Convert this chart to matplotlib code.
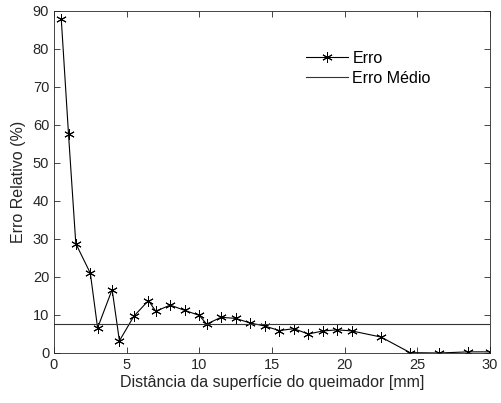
import matplotlib
matplotlib.use("Agg")
import matplotlib.pyplot as plt
import numpy as np

plt.rcParams["font.family"] = ["Liberation Sans", "DejaVu Sans"]

# distance from burner surface [mm] and relative error [%]
distancia = [0.5, 1.0, 1.5, 2.5, 3.0, 4.0, 4.5, 5.5, 6.5, 7.0, 8.0, 9.0, 10.0,
             10.5, 11.5, 12.5, 13.5, 14.5, 15.5, 16.5, 17.5, 18.5, 19.5, 20.5,
             22.5, 24.5, 26.5, 28.5, 30.0]
erro = [87.9, 57.5, 28.8, 21.0, 6.6, 16.7, 3.2, 9.7, 13.8, 11.0, 12.6, 11.2, 9.9,
        7.6, 9.4, 9.1, 7.9, 7.1, 5.9, 6.4, 5.0, 5.8, 6.1, 5.8,
        4.2, 0.1, 0.0, 0.3, 0.3]
erro_medio = 7.6

fig = plt.figure(figsize=(5.01, 4.03), dpi=100)
ax = fig.add_axes([54 / 501, 50 / 403, 436 / 501, 342 / 403])

# MATLAB-style asterisk marker
ax.plot(distancia, erro, color="black", linewidth=0.8, marker=(6, 2, 0),
        markersize=7.5, markeredgewidth=0.7, label="Erro")
ax.axhline(erro_medio, color="#333333", linewidth=0.8, label="Erro Médio")

ax.set_xlim(0, 30)
ax.set_ylim(0, 90)
ax.set_xticks(np.arange(0, 31, 5))
ax.set_yticks(np.arange(0, 91, 10))
ax.tick_params(direction="in", top=True, right=True, labelsize=10.5,
               colors="#262626", length=4, width=0.6)
for s in ax.spines.values():
    s.set_linewidth(0.6)
    s.set_color("#262626")

ax.set_xlabel("Distância da superfície do queimador [mm]", fontsize=11.5,
              color="#262626", labelpad=2)
ax.set_ylabel("Erro Relativo (%)", fontsize=11.5, color="#262626", labelpad=5)

ax.legend(loc="upper left", bbox_to_anchor=(0.545, 0.925), frameon=False,
          fontsize=11.5, handlelength=2.6, handletextpad=0.3, labelspacing=0.3)

fig.savefig("out.png", dpi=100)
